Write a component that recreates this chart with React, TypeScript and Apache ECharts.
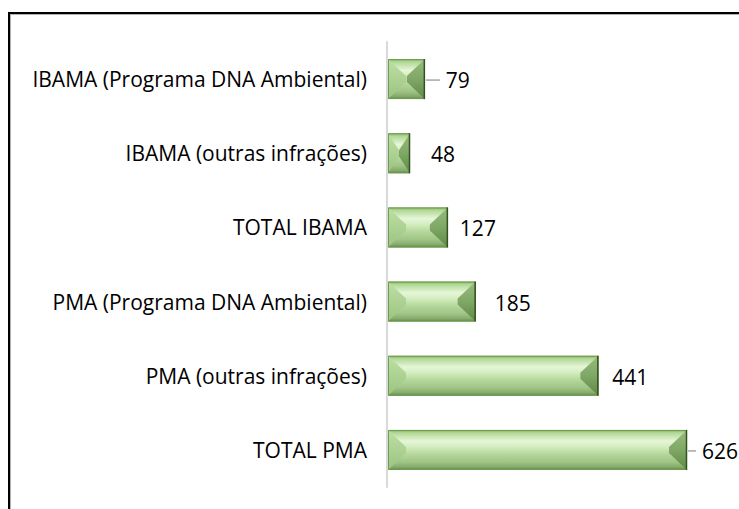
import React, { useEffect, useRef } from "react";
import * as echarts from "echarts";

const categories = [
  "IBAMA (Programa DNA Ambiental)",
  "IBAMA (outras infrações)",
  "TOTAL IBAMA",
  "PMA (Programa DNA Ambiental)",
  "PMA (outras infrações)",
  "TOTAL PMA",
];
const values = [79, 48, 127, 185, 441, 626];
const labelGaps = [21, 21, 12, 19, 14, 15];
const leaderLines = [true, false, false, false, false, true];

const FONT = "'Open Sans'";
const FONT_SIZE = 21;

export default function App() {
  const ref = useRef<HTMLDivElement>(null);
  useEffect(() => {
    document.body.style.margin = "0";
    const chart = echarts.init(ref.current!, null, { renderer: "svg" });
    const bodyGrad = () =>
      new echarts.graphic.LinearGradient(0, 0, 0, 1, [
        { offset: 0, color: "#7fae5e" },
        { offset: 0.07, color: "#b0d794" },
        { offset: 0.28, color: "#e6f6d8" },
        { offset: 0.42, color: "#d4edc1" },
        { offset: 0.52, color: "#c3e2aa" },
        { offset: 0.62, color: "#b3d59a" },
        { offset: 0.8, color: "#a0c586" },
        { offset: 0.93, color: "#85aa6b" },
        { offset: 1, color: "#5b8742" },
      ]);
    const leftGrad = () =>
      new echarts.graphic.LinearGradient(0, 0, 0, 1, [
        { offset: 0, color: "#bde0a4" },
        { offset: 1, color: "#9cc381" },
      ]);
    const rightGrad = () =>
      new echarts.graphic.LinearGradient(0, 0, 0, 1, [
        { offset: 0, color: "#97bc7d" },
        { offset: 0.5, color: "#7fa765" },
        { offset: 1, color: "#5e8947" },
      ]);

    chart.setOption({
      animation: false,
      grid: { left: 387, right: 52, top: 42, bottom: 22, containLabel: false },
      xAxis: {
        type: "value",
        min: 0,
        max: 626,
        show: false,
      },
      yAxis: {
        type: "category",
        data: categories,
        inverse: true,
        axisLine: { show: true, lineStyle: { color: "#d9d9d9", width: 2 } },
        axisTick: { show: false },
        axisLabel: {
          margin: 20,
          color: "#000",
          fontFamily: FONT,
          fontSize: FONT_SIZE,
        },
        splitLine: { show: false },
      },
      graphic: [
        {
          type: "line",
          shape: { x1: 8, y1: 13, x2: 760, y2: 13 },
          style: { stroke: "#000", lineWidth: 2 },
        },
        {
          type: "line",
          shape: { x1: 10, y1: 14.5, x2: 760, y2: 14.5 },
          style: { stroke: "#b0b0b0", lineWidth: 1 },
        },
        {
          type: "line",
          shape: { x1: 9, y1: 12, x2: 9, y2: 520 },
          style: { stroke: "#000", lineWidth: 2 },
        },
        {
          type: "line",
          shape: { x1: 10.5, y1: 14, x2: 10.5, y2: 520 },
          style: { stroke: "#b0b0b0", lineWidth: 1 },
        },
      ],
      series: [
        {
          type: "custom",
          encode: { x: 0, y: 1 },
          data: values.map((v, i) => [v, i]),
          renderItem: (params: any, api: any) => {
            const val = api.value(0);
            const idx = api.value(1);
            const start = api.coord([0, idx]);
            const end = api.coord([val, idx]);
            const band = api.size([0, 1])[1];
            const h = band * 0.54;
            const x0 = start[0] + 1;
            const x1 = end[0];
            const yc = start[1];
            const y0 = yc - h / 2;
            const y1 = yc + h / 2;
            const w = x1 - x0;
            const d = Math.min(18, w / 2);
            const v = Math.min(17, h / 2);
            const gap = labelGaps[params.dataIndex];
            const children: any[] = [
              {
                type: "rect",
                shape: { x: x0, y: y0, width: w, height: h },
                style: { fill: bodyGrad() },
              },
              {
                type: "polygon",
                shape: {
                  points: [
                    [x0, y0],
                    [x0 + d, y0 + v],
                    [x0 + d, y1 - v],
                    [x0, y1],
                  ],
                },
                style: { fill: leftGrad() },
              },
              {
                type: "polygon",
                shape: {
                  points: [
                    [x1, y0],
                    [x1 - d, y0 + v],
                    [x1 - d, y1 - v],
                    [x1, y1],
                  ],
                },
                style: { fill: rightGrad() },
              },
              {
                type: "rect",
                shape: { x: x0 + 0.5, y: y0 + 0.5, width: w - 1, height: h - 1 },
                style: { fill: "none", stroke: "#6f9d50", lineWidth: 1 },
              },
              {
                type: "line",
                shape: { x1: x1 - 0.5, y1: y0, x2: x1 - 0.5, y2: y1 },
                style: { stroke: "#34521f", lineWidth: 1.5 },
              },
              {
                type: "text",
                x: x1 + gap,
                y: yc + 1,
                style: {
                  text: String(val),
                  fill: "#000",
                  font: `${FONT_SIZE}px ${FONT}`,
                  textAlign: "left",
                  textVerticalAlign: "middle",
                },
              },
            ];
            if (leaderLines[params.dataIndex]) {
              children.push({
                type: "line",
                shape: {
                  x1: x1 + 1,
                  y1: yc + 1,
                  x2: x1 + Math.max(gap - 6, 8),
                  y2: yc + 1,
                },
                style: { stroke: "#a6a6a6", lineWidth: 1.5 },
              });
            }
            return { type: "group", children };
          },
        },
      ],
    });
    return () => chart.dispose();
  }, []);
  return <div ref={ref} style={{ width: 739, height: 509 }} />;
}
